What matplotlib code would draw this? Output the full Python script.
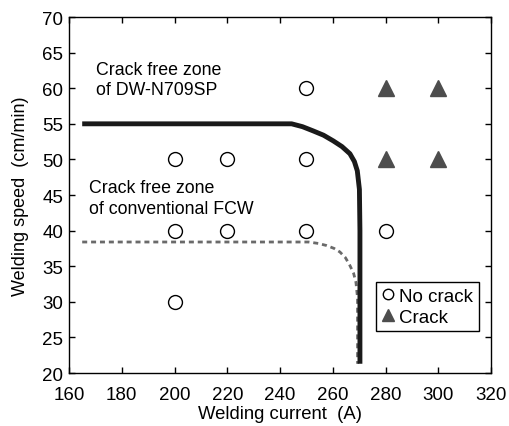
import matplotlib
matplotlib.use("Agg")
import matplotlib.pyplot as plt

plt.rcParams["font.family"] = ["Liberation Sans", "DejaVu Sans"]

# test points
no_crack_current = [200, 220, 250, 200, 220, 250, 200, 250, 280]
no_crack_speed = [50, 50, 50, 40, 40, 40, 30, 60, 40]
crack_current = [280, 300, 280, 300]
crack_speed = [60, 60, 50, 50]

# boundary of crack free zone, DW-N709SP (thick line)
dw_current = [165, 244.4, 248.5, 252.6, 256.5, 260.2, 263.5, 266.5, 268.2, 269.3, 270.1, 270.3, 270.3]
dw_speed = [55.0, 55.0, 54.6, 54.0, 53.4, 52.6, 51.8, 50.8, 49.7, 48.4, 45.8, 40.0, 21.3]

# boundary of crack free zone, conventional FCW (dotted line)
fcw_current = [165, 250.8, 254.5, 257.7, 260.5, 262.7, 264.8, 266.5, 267.9, 268.8, 269.4, 269.4]
fcw_speed = [38.4, 38.4, 38.2, 37.9, 37.5, 37.0, 36.2, 35.1, 34.0, 32.7, 30.5, 21.3]

fig = plt.figure(figsize=(5.10, 4.27), dpi=100)
ax = fig.add_axes([0.1353, 0.1241, 0.8275, 0.8337])

ax.plot(fcw_current, fcw_speed, color="#6a6a6a", lw=2.0, linestyle=(0, (1.8, 1.4)), zorder=2)
ax.plot(dw_current, dw_speed, color="#1a1a1a", lw=3.5, solid_capstyle="butt",
        solid_joinstyle="round", zorder=3)

ax.plot(no_crack_current, no_crack_speed, linestyle="none", marker="o", ms=10,
        mfc="white", mec="black", mew=1.0, label="No crack", zorder=4)
ax.plot(crack_current, crack_speed, linestyle="none", marker="^", ms=11,
        mfc="#4d4d4d", mec="#4d4d4d", label="Crack", zorder=4)

ax.text(170.2, 63.8, "Crack free zone\nof DW-N709SP", fontsize=12.8, va="top",
        ha="left", linespacing=1.25)
ax.text(167.6, 47.2, "Crack free zone\nof conventional FCW", fontsize=12.8, va="top",
        ha="left", linespacing=1.25)

ax.set_xlim(160, 320)
ax.set_ylim(20, 70)
ax.set_xticks(range(160, 321, 20))
ax.set_yticks(range(20, 71, 5))
ax.tick_params(direction="in", length=4, width=1, top=True, right=True, labelsize=13.5)
ax.tick_params(axis="x", pad=9)
ax.tick_params(axis="y", pad=4)
for s in ax.spines.values():
    s.set_linewidth(1.0)

ax.set_xlabel("Welding current  (A)", fontsize=13.3, labelpad=1.5)
ax.set_ylabel("Welding speed  (cm/min)", fontsize=13, labelpad=10)

leg = ax.legend(loc="upper left", bbox_to_anchor=(0.7275, 0.2556), borderaxespad=0,
                fontsize=13.5, handlelength=0.7, handletextpad=0.25, borderpad=0.3,
                labelspacing=0.2, fancybox=False, edgecolor="black", framealpha=1,
                markerscale=0.75)
leg.get_frame().set_linewidth(1.0)

fig.savefig("out.png", dpi=100)
